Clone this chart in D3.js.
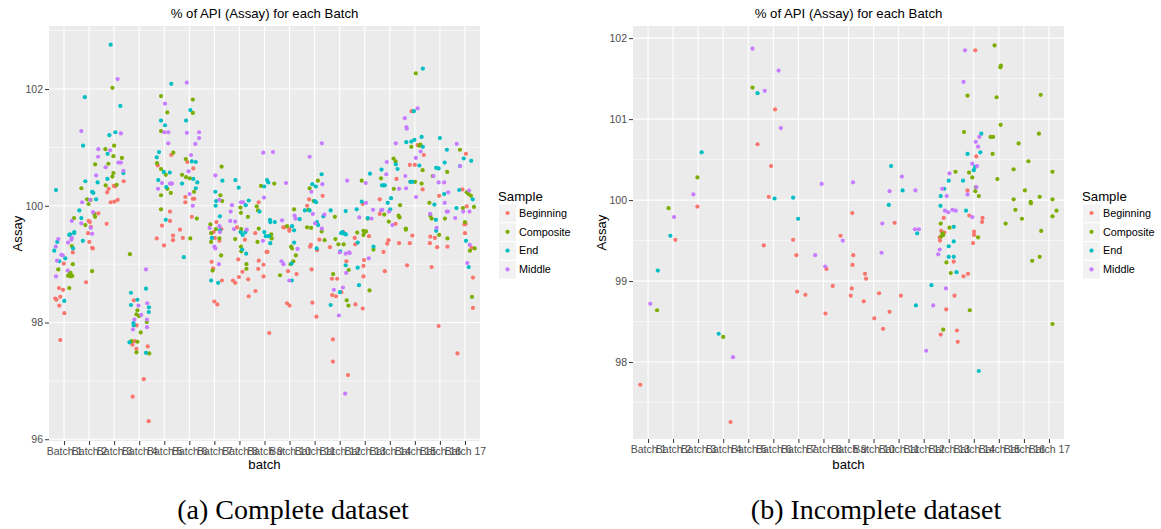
<!DOCTYPE html>
<html>
<head>
<meta charset="utf-8">
<script src="https://cdn.jsdelivr.net/npm/d3@7"></script>
<style>
  body { margin: 0; background: #fff; }
  svg { display: block; }
</style>
</head>
<body>
<svg width="1161" height="529"></svg>
<script>
const batches = ['Batch 1', 'Batch 2', 'Batch 3', 'Batch 4', 'Batch 5', 'Batch 6', 'Batch 7', 'Batch 8', 'Batch 9',
  'Batch 10', 'Batch 11', 'Batch 12', 'Batch 13', 'Batch 14', 'Batch 15', 'Batch 16', 'Batch 17'];
const samples = ['Beginning', 'Composite', 'End', 'Middle'];

// [batch position incl. jitter, assay]
const completeBeginning = [
  [0.65,98.41],[0.70,98.39],[0.85,98.44],[0.80,98.59],[0.96,98.56],[0.81,98.29],[1.01,98.16],[0.85,97.70],[0.99,99.01],[1.35,99.20],
  [1.96,99.53],[2.01,99.38],[2.12,99.28],[2.15,99.27],[1.88,98.69],[1.98,99.74],[2.03,99.72],[2.07,99.64],[2.37,99.87],
  [2.70,99.69],[2.72,100.23],[2.78,100.29],[3.04,100.33],[2.99,100.34],[3.01,100.07],[2.86,100.06],[3.14,100.10],[3.38,100.42],
  [3.79,98.38],[3.90,97.95],[3.73,97.62],[3.82,97.68],[3.89,97.55],[4.34,97.59],[4.18,97.03],[3.74,96.73],[4.38,96.31],
  [4.74,100.69],[5.28,100.87],[5.23,99.90],[5.23,99.74],[4.91,99.66],[4.70,99.44],[4.99,99.32],[5.35,99.49],[5.35,99.41],[5.63,99.59],[5.74,99.45],
  [5.92,100.75],[6.16,100.64],[5.84,100.15],[6.14,100.12],[6.20,100.12],[5.84,100.06],[6.10,99.81],
  [7.08,99.72],[6.97,99.55],[7.28,99.60],[7.20,99.40],[6.89,99.04],[6.95,98.93],[7.30,98.72],[7.00,98.36],[7.12,98.31],[7.02,99.45],
  [7.90,99.63],[8.22,99.42],[7.95,99.08],[8.12,98.87],[7.98,98.78],[7.74,98.72],[7.83,98.68],[8.35,98.74],[8.37,98.45],[8.64,98.54],
  [8.77,100.06],[8.63,99.53],[8.77,99.06],[8.96,98.99],[8.75,98.92],[8.96,98.79],[9.19,97.82],[9.08,99.21],[9.12,99.21],
  [9.99,99.57],[9.94,98.88],[9.90,98.33],[10.00,98.29],[10.28,98.83],[9.99,99.60],[9.75,99.63],[9.80,99.63],
  [10.82,99.30],[10.85,99.33],[10.88,98.91],[10.91,98.34],[11.07,98.10],[11.10,99.24],[11.19,99.42],[11.61,99.29],[11.69,98.75],[11.70,98.47],[11.73,97.71],[11.73,97.33],[11.32,100.17],[10.78,100.11],[10.70,100.00],
  [11.90,98.75],[12.07,98.52],[11.85,98.45],[12.33,97.10],[12.27,99.05],[12.15,99.55],
  [12.63,98.31],[12.92,98.24],[12.95,98.79],[12.95,98.97],[12.97,99.07],[12.62,99.34],[12.60,99.45],[13.17,99.48],[12.92,100.03],
  [13.60,100.11],[13.60,99.86],[14.23,99.69],[13.80,98.88],[13.90,99.35],[13.95,99.41],[13.75,99.21],[14.37,99.36],[14.27,100.46],
  [14.80,99.36],[14.69,98.98],[14.90,99.49],[14.87,101.62],[15.11,101.04],[15.36,100.87],[14.80,100.70],[15.00,100.70],[14.82,100.41],[15.31,100.28],
  [15.60,99.36],[15.62,99.47],[15.80,99.45],[15.67,98.95],[15.89,99.29],[15.95,97.94],[16.30,99.30],[16.70,97.47],[15.97,100.17],
  [17.04,100.89],[16.90,100.28],[17.07,99.99],[16.98,99.68],[17.03,99.69],[17.00,99.53],[17.27,99.28],[17.32,98.77],[17.32,98.25]
];
const completeComposite = [
  [0.77,98.91],[1.31,99.31],[1.35,99.00],[1.21,98.59],[1.22,98.83],[1.26,98.85],[1.16,98.80],[1.27,98.79],[1.33,98.80],[1.40,99.79],
  [2.12,98.88],[1.69,100.30],[1.85,99.67],[1.92,100.11],[2.06,100.10],[1.98,100.03],[2.24,99.81],[2.21,99.86],[2.24,100.71],
  [2.65,100.97],[2.93,102.02],[3.00,101.03],[2.97,100.85],[3.31,100.82],[2.77,100.72],[2.97,100.56],[2.93,100.50],[3.10,100.36],[2.66,100.35],
  [3.63,99.17],[3.93,98.21],[3.89,98.14],[3.99,98.11],[4.06,97.83],[3.69,97.68],[3.93,97.67],[3.89,97.49],[4.30,98.01],[4.40,97.47],
  [4.71,100.73],[4.87,100.63],[5.12,100.29],[4.87,100.18],[4.87,99.94],[4.87,101.88],[5.12,101.60],[4.87,101.28],[5.36,100.91],[5.06,100.53],[5.26,100.22],
  [6.04,99.44],[6.14,101.82],[6.14,101.59],[5.86,100.80],[5.71,100.53],[5.87,100.49],[6.02,100.47],[6.19,100.24],[6.30,99.78],
  [7.29,100.67],[7.24,100.18],[7.31,100.08],[6.84,99.68],[7.06,99.60],[6.87,99.53],[6.87,99.38],[6.93,98.89],[7.20,99.44],[7.27,99.15],
  [8.04,99.97],[8.06,99.88],[8.34,99.81],[8.05,99.55],[7.83,99.43],[8.06,99.30],[8.07,99.22],[8.28,99.00],[8.28,98.92],[8.07,99.60],
  [8.86,100.34],[9.39,100.38],[8.69,99.99],[8.74,99.92],[8.72,99.38],[9.20,99.48],[9.29,99.44],[9.27,99.51],[8.77,99.61],
  [10.18,99.94],[9.90,99.65],[9.62,98.81],[10.04,99.00],[10.06,99.30],[10.10,99.27],[10.15,99.05],[10.25,99.15],
  [11.13,100.43],[10.80,100.30],[10.96,100.08],[10.75,99.93],[10.86,99.62],[10.70,99.63],[11.81,99.81],[11.28,99.56],[11.40,99.41],[11.74,98.83],
  [12.88,100.43],[12.70,99.54],[13.00,99.55],[12.95,99.57],[11.83,99.43],[11.95,99.34],[12.16,99.34],[12.28,98.38],[12.35,98.29],[12.36,98.90],
  [13.65,100.47],[13.96,99.73],[13.12,99.78],[13.78,99.85],[12.95,99.50],[13.05,99.56],[13.35,99.25],[13.19,98.55],
  [14.15,100.81],[14.23,100.76],[14.16,100.29],[14.41,100.01],[14.35,99.83],[14.39,99.80],[14.64,99.61],[14.64,99.59],
  [15.04,102.27],[14.86,101.01],[15.18,101.03],[15.22,101.05],[15.01,100.41],[15.27,100.38],[15.31,100.61],
  [16.29,100.58],[15.71,100.51],[15.58,100.05],[15.67,99.78],[15.62,99.83],[16.20,99.78],[15.97,99.50],[16.30,99.44],
  [16.80,100.96],[17.07,100.23],[17.15,100.20],[17.24,100.17],[17.36,99.98],[16.92,99.96],[17.00,99.72],[17.20,99.23],[17.39,99.27],[17.28,98.44]
];
const completeEnd = [
  [0.68,100.27],[0.61,99.23],[0.73,99.38],[0.81,99.05],[1.05,99.10],[1.01,98.37],[1.21,99.50],[1.40,99.53],[1.36,99.27],[1.24,99.51],[1.41,99.55],[1.61,99.92],
  [1.83,101.86],[1.76,101.03],[1.85,100.42],[2.34,100.40],[2.12,100.24],[2.17,100.22],[2.28,100.11],[1.69,99.79],[1.75,99.40],
  [2.86,102.76],[3.25,101.71],[3.05,101.26],[2.81,101.21],[2.74,100.89],[3.37,100.56],[2.73,100.46],
  [3.67,98.51],[3.67,98.30],[3.93,98.39],[3.77,97.99],[3.78,97.95],[3.61,97.66],[4.27,98.58],[4.39,98.26],[4.38,98.18],[4.27,97.48],
  [4.70,100.83],[4.79,100.92],[4.98,100.58],[4.76,100.44],[5.08,100.32],[5.06,99.76],[5.28,102.09],[4.87,101.46],[5.03,101.38],[5.22,100.57],[5.78,99.12],
  [6.04,101.64],[5.87,101.46],[6.10,100.76],[6.26,100.75],[6.16,100.46],[6.32,100.40],[5.71,100.38],[6.26,100.30],
  [7.32,100.43],[7.04,100.24],[7.07,100.08],[7.05,100.00],[7.22,99.82],[7.22,99.58],[6.90,99.45],[6.87,98.72],[7.15,98.68],
  [7.84,100.44],[7.97,100.31],[8.37,100.09],[8.25,100.01],[8.13,99.50],[8.05,99.55],[8.24,99.55],[8.11,99.25],[8.27,99.18],
  [9.10,100.44],[9.15,100.40],[8.99,100.33],[8.80,99.90],[9.22,99.76],[9.23,99.72],[9.41,99.72],[8.99,99.55],[9.05,99.48],[9.18,99.48],[9.23,99.36],
  [10.40,99.77],[10.10,99.65],[10.18,99.58],[10.18,99.37],[10.08,99.01],[10.09,98.72],
  [11.28,100.54],[10.91,100.37],[11.05,100.33],[11.00,100.08],[11.06,100.06],[10.61,99.92],[10.80,99.92],[11.35,99.82],[11.64,99.92],[11.09,99.72],[11.14,99.67],[11.08,99.27],[11.64,98.30],
  [12.24,99.91],[12.11,99.55],[12.06,99.53],[12.68,99.94],[12.19,99.52],[12.25,99.51],[12.02,99.22],[12.24,98.98],[12.01,98.52],[12.72,98.94],[12.77,98.64],[12.72,99.37],
  [13.21,100.55],[12.88,100.07],[13.12,99.79],[13.67,100.62],[13.69,100.35],[13.75,100.35],[13.80,100.35],[13.92,100.05],[13.35,99.30],
  [14.24,100.71],[14.31,100.63],[14.05,100.13],[14.02,99.94],
  [14.66,101.09],[14.96,101.62],[15.32,102.35],[14.86,101.10],[14.98,101.13],[15.27,101.18],[15.32,101.01],[15.18,100.69],[14.82,100.41],[14.91,100.41],
  [16.00,101.16],[16.28,100.96],[15.85,100.65],[15.95,100.64],[16.19,100.74],[16.17,100.20],[15.78,100.02],[15.84,99.76],[15.85,99.57],
  [16.95,100.81],[17.25,100.77],[16.80,100.68],[17.31,100.11],[16.77,100.27],[16.66,99.96],[17.04,99.40],[17.15,98.95]
];
const completeMiddle = [
  [0.77,99.43],[0.67,99.30],[0.72,99.06],[0.68,98.79],[0.89,99.16],[0.95,99.15],[1.16,99.37],[1.29,99.42],[1.15,98.89],[1.31,99.74],[1.31,99.45],
  [1.69,101.28],[2.37,100.97],[2.36,100.84],[2.04,100.10],[1.72,100.06],[2.16,99.89],[1.69,99.70],[2.06,99.62],[2.12,99.52],
  [3.14,102.17],[3.27,101.24],[2.84,100.95],[3.17,100.74],[3.27,100.74],[2.66,100.66],[2.28,100.52],[3.37,100.60],
  [3.97,98.29],[4.08,98.13],[3.81,98.05],[3.75,97.88],[4.27,98.91],[4.32,98.33],[4.31,98.05],[4.31,97.92],
  [4.91,100.39],[4.75,100.29],[5.03,101.75],[5.00,101.26],[5.16,101.26],[5.16,101.07],[5.23,100.38],[5.27,100.38],[5.31,100.38],
  [5.90,102.11],[6.39,101.26],[5.90,101.25],[6.39,101.16],[6.24,101.06],[6.07,100.87],[5.97,100.59],[6.01,100.20],[6.14,100.00],
  [7.04,100.52],[7.20,100.10],[6.81,99.62],[7.20,99.65],[7.22,99.55],[7.00,99.30],[7.04,99.27],[7.18,99.00],
  [8.06,100.06],[8.15,100.06],[7.70,100.01],[7.65,99.90],[7.63,99.74],[7.83,99.73],[8.29,99.59],[7.78,99.60],
  [8.95,100.91],[9.34,100.92],[8.98,100.14],[8.94,99.40],
  [9.86,100.39],[10.20,99.83],[10.24,99.78],[9.70,99.75],[9.68,99.05],[9.76,99.00],[9.99,98.72],[10.32,99.26],
  [10.80,100.84],[11.29,101.07],[10.87,100.24],[11.31,100.37],[10.93,99.86],[11.39,99.85],[11.02,99.70],[11.29,99.61],[11.77,98.56],
  [12.30,100.43],[12.78,99.80],[12.00,99.20],[12.24,99.18],[12.40,99.19],[12.13,98.60],[11.97,98.12],[12.22,96.78],[12.26,98.85],[12.38,99.20],
  [13.04,100.39],[13.05,100.05],[13.33,99.93],[13.27,99.78],[13.16,99.10],[13.86,100.54],[13.88,100.75],[13.70,99.93],[13.65,99.92],[14.10,99.67],
  [14.24,101.07],[14.37,100.29],[14.62,100.51],[14.65,100.30],[13.97,99.90],
  [14.60,101.50],[14.66,101.35],[14.68,101.32],[15.11,101.67],[15.23,100.93],[15.04,100.82],[15.05,100.15],
  [15.74,100.51],[15.95,100.40],[16.17,100.40],[16.33,100.23],[16.19,100.05],[16.27,99.90],[16.32,99.90],[15.61,99.86],[15.87,99.62],
  [16.67,101.06],[16.81,100.68],[17.16,100.26],[16.93,99.90],[17.18,99.90],[16.61,99.79],[17.19,99.33],[17.09,99.02]
];

const incompleteBeginning = [
  [0.69,97.72],[2.09,99.51],[2.97,99.92],[4.29,97.26],[5.37,100.69],[5.91,100.42],[5.82,100.04],[6.07,101.12],[5.62,99.44],
  [6.79,99.51],[6.92,99.32],[6.95,98.87],[7.28,98.83],[8.12,99.15],[8.08,98.60],[8.37,98.94],[8.68,99.56],
  [9.15,99.84],[9.19,99.32],[9.16,99.20],[9.13,98.91],[9.09,98.82],[9.66,99.09],[9.70,99.03],[9.61,98.75],
  [10.03,98.54],[10.22,98.85],[10.38,98.41],[10.64,98.62],[11.09,98.82],[10.84,99.72],
  [12.80,99.78],[12.70,99.62],[12.82,99.60],[12.64,99.54],[12.65,99.50],[13.20,99.24],[13.23,98.82],[12.90,98.65],[12.68,98.34],
  [13.33,98.39],[13.36,98.25],[13.59,99.06],[13.77,99.09],[13.75,100.12],[13.82,99.81],
  [14.06,101.85],[14.10,100.54],[14.35,99.78],[14.33,99.73],[14.01,99.61],[13.97,99.47],[14.01,99.57]
];
const incompleteComposite = [
  [1.36,98.64],[1.82,99.90],[2.97,100.28],[4.00,98.31],[5.17,101.39],
  [12.68,99.71],[12.75,99.59],[12.70,99.55],[12.78,99.57],[12.91,99.23],[12.78,98.40],[13.03,99.66],[13.08,99.10],[13.27,100.35],
  [13.61,100.84],[13.75,101.29],[13.81,100.34],[13.94,100.28],[13.84,98.64],
  [14.06,100.11],[14.08,100.16],[14.20,100.05],[14.17,99.54],[14.67,100.78],[14.77,100.78],[14.75,100.57],[14.83,101.91],[14.91,101.27],[14.94,100.26],
  [15.06,101.64],[15.08,101.66],[15.07,100.93],[15.27,99.71],[15.59,100.38],[15.59,100.01],[15.66,99.88],[15.79,100.70],[15.92,99.77],
  [16.04,100.12],[16.18,100.48],[16.27,99.98],[16.28,99.96],[16.33,99.25],[16.60,100.82],[16.63,100.04],[16.63,99.30],[16.67,101.30],[16.69,99.62],
  [17.14,100.35],[17.14,100.01],[17.14,99.80],[17.30,99.87],[17.14,98.47]
];
const incompleteEnd = [
  [1.39,99.13],[1.89,99.56],[3.14,100.59],[3.82,98.35],[5.37,101.32],[6.05,100.02],[6.79,100.03],[6.99,99.77],
  [10.61,99.94],[10.70,100.42],[11.16,100.12],[11.74,99.59],[11.69,98.70],[12.31,98.95],
  [12.67,99.93],[12.68,100.05],[12.82,100.14],[13.00,100.24],[13.00,99.43],[13.00,99.30],[13.20,99.30],[13.20,99.67],[13.20,99.49],[13.31,99.11],
  [13.57,100.24],[13.69,99.87],[13.75,100.57],[14.00,100.37],[14.05,100.41],[14.26,100.59],[14.30,100.82],[14.20,97.89]
];
const incompleteMiddle = [
  [1.09,98.72],[2.04,99.79],[2.81,100.07],[4.39,98.06],[5.17,101.87],[5.66,101.35],[6.21,101.60],[6.30,100.89],
  [7.67,99.32],[7.93,100.20],[8.07,99.18],[8.77,99.50],[9.18,100.22],
  [10.32,99.35],[10.35,99.71],[10.64,100.11],[11.13,100.29],[11.65,99.64],[11.67,100.12],[11.81,99.64],
  [12.10,98.14],[12.38,98.70],[12.58,99.33],[12.64,99.39],[12.74,100.14],[12.85,99.87],[12.89,98.91],[12.92,100.05],[12.98,99.85],
  [13.03,100.33],[13.15,99.88],[13.28,99.87],[13.59,101.46],[13.65,101.85],[13.75,100.07],[13.94,100.45],[13.94,99.79],
  [14.08,100.72],[14.10,100.16],[14.13,100.42],[14.17,100.66],[14.22,100.78]
];

const colour = d3.scaleOrdinal().domain(samples).range(['#F8766D', '#7CAE00', '#00BFC4', '#C77CFF']);
const svg = d3.select('svg');
const font = 'Liberation Sans, Arial, sans-serif';

function drawPanel(o) {
  const x = d3.scaleLinear().domain([0.4, 17.6]).range([o.left, o.right]);
  const y = d3.scaleLinear().domain(o.yDomain).range([o.bottom, o.top]);
  const g = svg.append('g');

  g.append('rect')
      .attr('x', o.left).attr('y', o.top)
      .attr('width', o.right - o.left).attr('height', o.bottom - o.top)
      .attr('fill', '#EBEBEB');

  g.selectAll('.minor').data(o.minor).enter().append('line')
      .attr('x1', o.left).attr('x2', o.right)
      .attr('y1', d => y(d)).attr('y2', d => y(d))
      .attr('stroke', '#fff').attr('stroke-width', 0.55);
  g.selectAll('.major').data(o.major).enter().append('line')
      .attr('x1', o.left).attr('x2', o.right)
      .attr('y1', d => y(d)).attr('y2', d => y(d))
      .attr('stroke', '#fff').attr('stroke-width', 1.1);
  g.selectAll('.vgrid').data(d3.range(1, 18)).enter().append('line')
      .attr('x1', d => x(d)).attr('x2', d => x(d))
      .attr('y1', o.top).attr('y2', o.bottom)
      .attr('stroke', '#fff').attr('stroke-width', 1.1);

  const yAxis = g.append('g')
      .attr('transform', 'translate(' + o.left + ',0)')
      .call(d3.axisLeft(y).tickValues(o.major).tickSize(4).tickPadding(2).tickFormat(d3.format('d')));
  const xAxis = g.append('g')
      .attr('transform', 'translate(0,' + o.bottom + ')')
      .call(d3.axisBottom(x).tickValues(d3.range(1, 18)).tickSize(4).tickPadding(3).tickFormat(d => batches[d - 1]));
  [xAxis, yAxis].forEach(a => {
    a.select('.domain').remove();
    a.selectAll('line').attr('stroke', '#333');
    a.selectAll('text').attr('fill', '#4D4D4D').attr('font-size', 10.5).attr('font-family', font);
  });

  o.series.forEach((pts, i) => {
    g.append('g').selectAll('circle').data(pts).enter().append('circle')
        .attr('cx', d => x(d[0]))
        .attr('cy', d => y(d[1]))
        .attr('r', 2.1)
        .attr('fill', colour(samples[i]));
  });

  const cx = (o.left + o.right) / 2;
  g.append('text').attr('x', cx).attr('y', 18).attr('text-anchor', 'middle')
      .attr('font-family', font).attr('font-size', 13.2).text('% of API (Assay) for each Batch');
  g.append('text').attr('x', cx).attr('y', 469).attr('text-anchor', 'middle')
      .attr('font-family', font).attr('font-size', 13.2).text('batch');
  g.append('text')
      .attr('transform', 'translate(' + (o.left - 27) + ',' + ((o.top + o.bottom) / 2) + ') rotate(-90)')
      .attr('text-anchor', 'middle').attr('font-family', font).attr('font-size', 13.2).text('Assay');

  // legend
  const lg = g.append('g').attr('transform', 'translate(' + (o.right + 18) + ',0)');
  lg.append('text').attr('x', 0).attr('y', 201).attr('font-family', font).attr('font-size', 13.2).text('Sample');
  const item = lg.selectAll('.key').data(samples).enter().append('g')
      .attr('transform', (d, i) => 'translate(0,' + (213 + i * 18.8) + ')');
  item.append('rect').attr('x', 0.5).attr('y', -9).attr('width', 18).attr('height', 18.8)
      .attr('fill', '#F2F2F2').attr('stroke', '#fff').attr('stroke-width', 1);
  item.append('circle').attr('cx', 9.5).attr('cy', 0).attr('r', 2.1).attr('fill', d => colour(d));
  item.append('text').attr('x', 21).attr('y', 3.8).attr('font-family', font).attr('font-size', 10.8)
      .attr('fill', '#000').text(d => d);
}

drawPanel({
  left: 49, right: 480, top: 26, bottom: 441,
  yDomain: [95.97, 103.08], major: [96, 98, 100, 102], minor: [97, 99, 101, 103],
  series: [completeBeginning, completeComposite, completeEnd, completeMiddle]
});
drawPanel({
  left: 633, right: 1064, top: 26, bottom: 439,
  yDomain: [97.05, 102.15], major: [98, 99, 100, 101, 102], minor: [97.5, 98.5, 99.5, 100.5, 101.5],
  series: [incompleteBeginning, incompleteComposite, incompleteEnd, incompleteMiddle]
});

const captions = ['(a) Complete dataset', '(b) Incomplete dataset'];
svg.selectAll('.caption').data(captions).enter().append('text')
    .attr('x', (d, i) => i === 0 ? 293 : 876)
    .attr('y', 519)
    .attr('text-anchor', 'middle')
    .attr('font-family', 'Liberation Serif, Times New Roman, serif')
    .attr('font-size', 28)
    .text(d => d);
</script>
</body>
</html>
